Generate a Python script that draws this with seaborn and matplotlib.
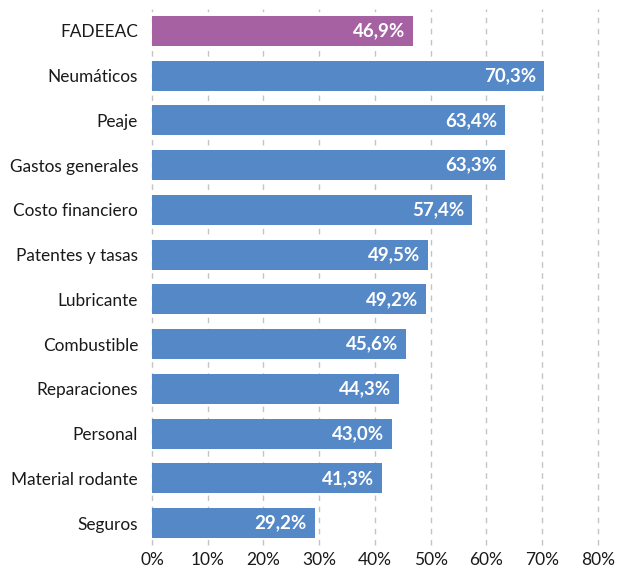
import matplotlib
matplotlib.use("Agg")
import matplotlib.pyplot as plt
import seaborn as sns
import pandas as pd

categories = ["FADEEAC", "Neumáticos", "Peaje", "Gastos generales", "Costo financiero",
              "Patentes y tasas", "Lubricante", "Combustible", "Reparaciones",
              "Personal", "Material rodante", "Seguros"]
values = [46.9, 70.3, 63.4, 63.3, 57.4, 49.5, 49.2, 45.6, 44.3, 43.0, 41.3, 29.2]
x_ticks = [0, 10, 20, 30, 40, 50, 60, 70, 80]

PURPLE = "#A661A3"
BLUE = "#5588C7"

sns.set_theme(style="white")
plt.rcParams["font.family"] = ["Lato", "DejaVu Sans"]

df = pd.DataFrame({"rubro": categories, "variacion": values})
palette = [PURPLE] + [BLUE] * (len(categories) - 1)

fig = plt.figure(figsize=(6.27, 5.67), dpi=100)
ax = fig.add_axes([0.2424, 0.038, 0.958 - 0.2424, 0.985 - 0.038])

sns.barplot(data=df, x="variacion", y="rubro", hue="rubro", palette=palette,
            legend=False, width=0.67, saturation=1, linewidth=0, edgecolor="none",
            ax=ax, zorder=3)

ax.set_xlim(0, 80.5)
ax.set_xticks(x_ticks)
ax.set_xticklabels([f"{t}%" for t in x_ticks], fontsize=12.5, color="#1a1a1a")
ax.tick_params(axis="y", labelsize=12.4, labelcolor="#1a1a1a", length=0, pad=10)
ax.tick_params(axis="x", length=0, pad=5)
ax.set_xlabel("")
ax.set_ylabel("")

for t in x_ticks:
    ax.axvline(t, color="#c4c4c4", lw=1, ls=(0, (4, 4)), zorder=1, clip_on=False)

for s in ax.spines.values():
    s.set_visible(False)

for i, v in enumerate(values):
    ax.text(v - 1.4, i, f"{v:.1f}%".replace(".", ","), ha="right", va="center",
            color="white", fontsize=13.5, fontweight="bold", zorder=4)

fig.savefig("out.png", dpi=100)
